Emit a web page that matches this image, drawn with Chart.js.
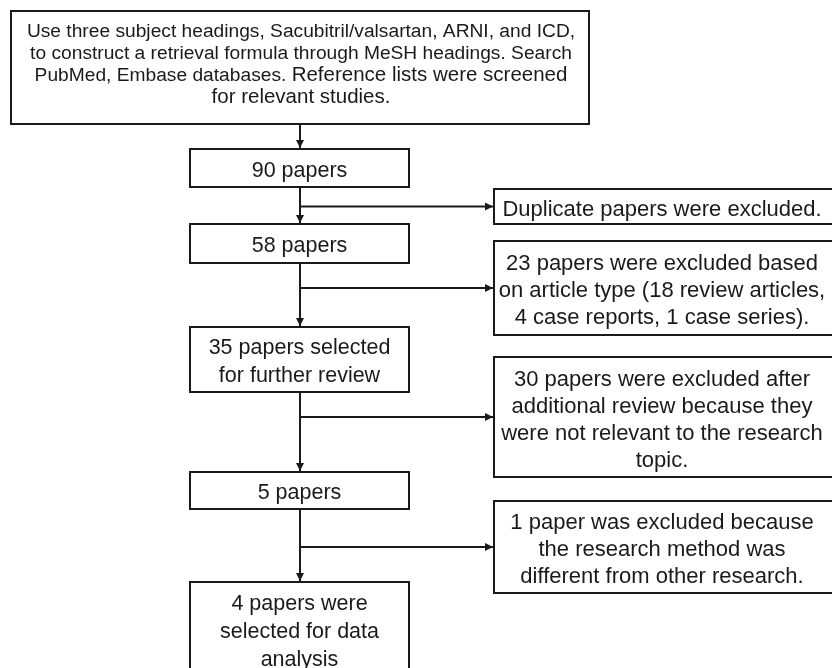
<!DOCTYPE html>
<html>
<head>
<meta charset="utf-8">
<script src="https://cdn.jsdelivr.net/npm/chart.js@4.4.1/dist/chart.umd.min.js"></script>
<style>
  html, body { margin: 0; padding: 0; background: #ffffff; }
  #wrap { width: 832px; height: 668px; }
</style>
</head>
<body>
<div id="wrap"><canvas id="c" width="832" height="668"></canvas></div>
<script>
// ---------- content ----------
const searchLines = [
  [["Use three subject headings, Sacubitril/valsartan, ARNI, and ICD,", 0]],
  [["to construct a retrieval formula through MeSH headings. Search", 0]],
  [["PubMed, Embase databases. ", 0], ["Reference lists were screened", 1]],
  [["for relevant studies.", 1]]
];
const paperCounts = [90, 58, 35, 5, 4];
const mainStepLabels = [
  ["90 papers"],
  ["58 papers"],
  ["35 papers selected", "for further review"],
  ["5 papers"],
  ["4 papers were", "selected for data", "analysis"]
];
const excludedCounts = [null, 23, 30, 1];
const exclusionLabels = [
  ["Duplicate papers were excluded."],
  ["23 papers were excluded based", "on article type (18 review articles,", "4 case reports, 1 case series)."],
  ["30 papers were excluded after", "additional review because they", "were not relevant to the research", "topic."],
  ["1 paper was excluded because", "the research method was", "different from other research."]
];

// ---------- layout (diagram units = canvas pixels) ----------
const layout = {
  searchBox: [11, 11, 589, 124],
  trunkX: 300,
  mainBoxes: [[190,149,409,187],[190,224,409,263],[190,327,409,392],[190,472,409,509],[190,582,409,676]],
  sideBoxes: [[494,189,834,224],[494,241,834,335],[494,357,834,477],[494,501,834,593]],
  mainLineGap: 28, sideLineGap: 27, topLineGap: 21.8
};
const INK = '#1a1a1a';
const FONT = '"Liberation Sans", Arial, sans-serif';

// connectors built from the layout
function connectorSets() {
  const sets = [];
  const tx = layout.trunkX;
  sets.push([[tx, layout.searchBox[3]], [tx, layout.mainBoxes[0][1]]]);
  for (let i = 0; i < layout.mainBoxes.length - 1; i++) {
    sets.push([[tx, layout.mainBoxes[i][3]], [tx, layout.mainBoxes[i+1][1]]]);
  }
  layout.sideBoxes.forEach(b => {
    const cy = (b[1] + b[3]) / 2;
    sets.push([[tx, cy], [b[0], cy]]);
  });
  return sets;
}
const conns = connectorSets();

const datasets = conns.map(seg => ({
  type: 'line',
  data: seg.map(p => ({x: p[0], y: p[1]})),
  borderColor: INK,
  borderWidth: 2,
  pointRadius: 0,
  fill: false,
  tension: 0
}));

function capText(ctx, segs, cx, cy, sizes) {
  let total = 0;
  const ws = segs.map(s => { ctx.font = sizes[s[1]] + 'px ' + FONT; const w = ctx.measureText(s[0]).width; total += w; return w; });
  ctx.font = sizes[0] + 'px ' + FONT;
  const cap = ctx.measureText('H').actualBoundingBoxAscent;
  let x = cx - total / 2;
  ctx.textAlign = 'left';
  ctx.textBaseline = 'alphabetic';
  segs.forEach((s, i) => {
    ctx.font = sizes[s[1]] + 'px ' + FONT;
    ctx.fillText(s[0], x, cy + cap / 2);
    x += ws[i];
  });
}

const flowPlugin = {
  id: 'flow',
  afterDatasetsDraw(chart) {
    const ctx = chart.ctx;
    const xs = chart.scales.x, ys = chart.scales.y;
    const X = v => xs.getPixelForValue(v), Y = v => ys.getPixelForValue(v);
    ctx.save();
    ctx.fillStyle = INK;
    ctx.strokeStyle = INK;
    ctx.lineWidth = 2;
    function box(b) {
      ctx.strokeRect(X(b[0]), Y(b[1]), X(b[2]) - X(b[0]), Y(b[3]) - Y(b[1]));
    }
    function arrow(x, y, dir) {
      const L = 8, H = 4;
      ctx.beginPath();
      if (dir === 'down') { ctx.moveTo(x, y); ctx.lineTo(x - H, y - L); ctx.lineTo(x + H, y - L); }
      else { ctx.moveTo(x, y); ctx.lineTo(x - L, y - H); ctx.lineTo(x - L, y + H); }
      ctx.closePath(); ctx.fill();
    }
    box(layout.searchBox);
    layout.mainBoxes.forEach(box);
    layout.sideBoxes.forEach(box);
    conns.forEach(seg => {
      const [a, b] = seg;
      if (a[0] === b[0]) arrow(X(b[0]), Y(b[1]) - 1, 'down');
      else arrow(X(b[0]) - 1, Y(b[1]), 'right');
    });
    const sb = layout.searchBox;
    const scx = (sb[0] + sb[2]) / 2 + 1, scy = (sb[1] + sb[3]) / 2 - 4;
    searchLines.forEach((segs, i) => {
      const cy = scy + (i - (searchLines.length - 1) / 2) * layout.topLineGap;
      capText(ctx, segs, X(scx), Y(cy), [19.2, 20.5]);
    });
    layout.mainBoxes.forEach((b, k) => {
      const lines = mainStepLabels[k];
      const cx = (b[0] + b[2]) / 2, cy = (b[1] + b[3]) / 2 + 1;
      lines.forEach((t, i) => {
        const y = cy + (i - (lines.length - 1) / 2) * layout.mainLineGap;
        capText(ctx, [[t, 0]], X(cx), Y(y), [21.5]);
      });
    });
    layout.sideBoxes.forEach((b, k) => {
      const lines = exclusionLabels[k];
      const cx = (b[0] + 830) / 2, cy = (b[1] + b[3]) / 2 + 1.5;
      lines.forEach((t, i) => {
        const y = cy + (i - (lines.length - 1) / 2) * layout.sideLineGap;
        capText(ctx, [[t, 0]], X(cx), Y(y), [22]);
      });
    });
    ctx.restore();
  }
};

new Chart(document.getElementById('c'), {
  type: 'scatter',
  data: { datasets },
  options: {
    responsive: false,
    animation: false,
    devicePixelRatio: 1,
    layout: { padding: 0 },
    plugins: { legend: { display: false }, tooltip: { enabled: false } },
    scales: {
      x: { type: 'linear', min: 0, max: 832, display: false },
      y: { type: 'linear', min: 0, max: 668, reverse: true, display: false }
    }
  },
  plugins: [flowPlugin]
});
</script>
</body>
</html>
